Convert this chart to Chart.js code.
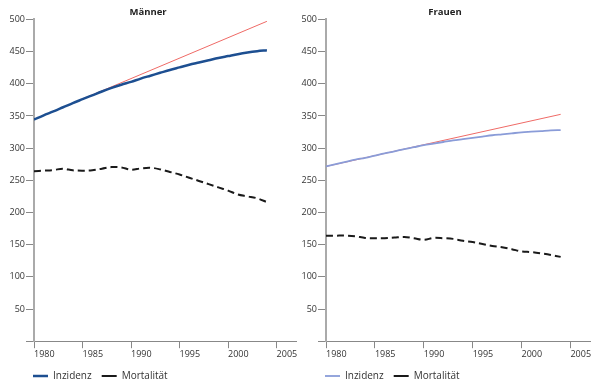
<!DOCTYPE html>
<html>
<head>
<meta charset="utf-8">
<script src="https://cdn.jsdelivr.net/npm/chart.js@4.4.0/dist/chart.umd.min.js"></script>
<style>
  html, body { margin: 0; padding: 0; background: #fff; }
  #wrap { position: relative; width: 600px; height: 391px; }
  canvas { position: absolute; top: 0; }
</style>
</head>
<body>
<div id="wrap">
  <canvas id="maenner" width="300" height="391" style="left:0"></canvas>
  <canvas id="frauen" width="300" height="391" style="left:300px"></canvas>
</div>
<script>
const years = [1980, 1981, 1982, 1983, 1984, 1985, 1986, 1987, 1988, 1989, 1990, 1991, 1992,
               1993, 1994, 1995, 1996, 1997, 1998, 1999, 2000, 2001, 2002, 2003, 2004];
const trendYears = [1980, 2004];

const maennerInzidenz = [344.5, 351, 357, 363.5, 370, 376, 382, 388, 393.5, 398.5, 403, 408, 412.5,
                         417, 421.5, 425.5, 429.5, 433, 436.5, 440, 443, 446, 448.5, 450.5, 452];
const maennerTrend = [344.5, 497];
const maennerMortalitaet = [264, 265, 266, 268, 265.5, 265, 265.5, 268, 270.5, 270, 266.5, 268.5, 269.5,
                            267, 263, 259, 254, 249, 244, 239, 234, 228, 225, 222, 216];

const frauenInzidenz = [271.5, 275, 278.5, 282, 285, 288.5, 292, 295, 298.5, 301.5, 304.5, 307, 309.5,
                        312, 314, 316, 318, 320, 321.5, 323, 324.5, 325.5, 326.5, 327.5, 328];
const frauenTrend = [271.5, 352.5];
const frauenMortalitaet = [164, 164, 164, 163, 160.5, 160, 160, 161, 162, 160, 157.5, 160.5, 160,
                           159, 156, 154, 151, 148, 146, 143, 139.5, 138.5, 136.5, 134, 131];

Chart.defaults.font.family = "'Open Sans', sans-serif";
Chart.defaults.font.size = 9;
Chart.defaults.color = '#333';

function points(xs, ys) {
    return xs.map((x, i) => ({ x: x, y: ys[i] }));
}

// legend starts under the y axis, like the original
const legendShift = {
    id: 'legendShift',
    afterLayout(chart) {
        const lg = chart.legend;
        const w = lg.right - lg.left;
        lg.left = chart.chartArea.left - lg.options.labels.padding - 1;
        lg.right = lg.left + w;
    }
};

function drawPanel(id, title, inzidenz, trend, mortalitaet, incColor, incWidth, axisWidth, padRight) {
    const ctx = document.getElementById(id).getContext('2d');
    return new Chart(ctx, {
        type: 'line',
        data: {
            datasets: [
                {
                    label: 'Trend',
                    data: points(trendYears, trend),
                    borderColor: '#ef6a66',
                    borderWidth: 1,
                    pointRadius: 0,
                    order: 3
                },
                {
                    label: 'Inzidenz',
                    data: points(years, inzidenz),
                    borderColor: incColor,
                    borderWidth: incWidth,
                    pointRadius: 0,
                    cubicInterpolationMode: 'monotone',
                    order: 1
                },
                {
                    label: 'Mortalität',
                    data: points(years, mortalitaet),
                    borderColor: '#1a1a1a',
                    borderWidth: 2,
                    borderDash: [7, 4],
                    pointRadius: 0,
                    tension: 0.35,
                    order: 2
                }
            ]
        },
        options: {
            responsive: false,
            animation: false,
            layout: { padding: { left: 0, right: padRight, top: 0, bottom: 0 } },
            plugins: {
                title: {
                    display: true,
                    text: title,
                    color: '#222',
                    font: { size: 9.5, weight: 'bold' },
                    padding: { top: 7, bottom: 1 }
                },
                legend: {
                    position: 'bottom',
                    align: 'start',
                    labels: {
                        usePointStyle: true,
                        pointStyle: 'line',
                        pointStyleWidth: 15,
                        padding: 10,
                        color: '#333',
                        font: { size: 10 },
                        filter: item => item.text !== 'Trend'
                    }
                },
                tooltip: { enabled: false }
            },
            scales: {
                x: {
                    type: 'linear',
                    min: 1980,
                    max: 2007,
                    border: { color: '#888', width: 1 },
                    grid: { drawOnChartArea: false, tickLength: 7, color: '#888' },
                    ticks: {
                        stepSize: 5,
                        includeBounds: false,
                        align: 'start',
                        padding: 1,
                        color: '#333',
                        callback: v => String(v)
                    }
                },
                y: {
                    min: 0,
                    max: 500,
                    border: { color: '#aaa', width: 2 },
                    grid: { drawOnChartArea: false, tickLength: 8, color: '#888' },
                    ticks: {
                        stepSize: 50,
                        padding: 1,
                        color: '#333',
                        callback: v => v === 0 ? '' : String(v)
                    },
                    afterFit: scale => { scale.width = axisWidth; }
                }
            }
        },
        plugins: [legendShift]
    });
}

drawPanel('maenner', 'Männer', maennerInzidenz, maennerTrend, maennerMortalitaet, '#1d4f91', 2.5, 34, 4);
drawPanel('frauen', 'Frauen', frauenInzidenz, frauenTrend, frauenMortalitaet, '#8a9cd8', 1.8, 26, 10);
</script>
</body>
</html>
